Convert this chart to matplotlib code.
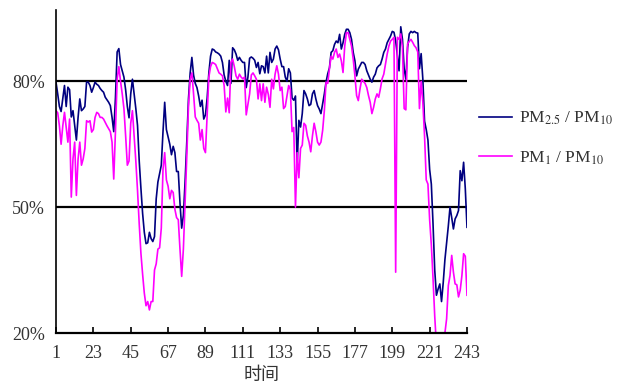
import numpy as np
import matplotlib
matplotlib.use("Agg")
import matplotlib.pyplot as plt

plt.rcParams['font.family'] = ['Liberation Serif', 'Noto Sans CJK SC']
plt.rcParams['mathtext.fontset'] = 'stix'

# PM2.5 / PM10 ratio (%), one value per time step 1..243
pm25_ratio = [
    79.8, 77, 74, 72.8, 76, 79, 74, 78.6, 78, 71.5,
    73, 69.5, 66, 71.4, 75.8, 73, 73.4, 74, 79.8, 79.8,
    79, 77.4, 78.5, 79.8, 79.3, 79, 78.3, 77.8, 77.4, 76.2,
    75.6, 75, 74.2, 71.4, 68, 76, 87, 87.8, 84, 82.5,
    81, 78, 74, 71.3, 77, 80.5, 77, 73.5, 69.5, 61,
    54.5, 48.5, 44, 41.3, 41.5, 44, 42.5, 41.8, 43, 52,
    56, 58, 60, 68, 75, 68.5, 66.8, 65, 62.5, 64.5,
    63, 58.5, 58.5, 51, 45, 48, 56, 65.5, 75.8, 82,
    85.7, 81.5, 79.5, 78.5, 76.5, 74, 75.5, 71, 72, 76,
    82, 86, 87.7, 87.5, 87, 86.8, 86.5, 86, 84.5, 81.5,
    80, 79, 85, 79.5, 88, 87.5, 86.5, 85, 85.7, 85,
    84.5, 84.5, 78.5, 81, 85.5, 85.8, 85.5, 85, 83.3, 84.5,
    81.8, 83.7, 83.5, 82, 86, 82, 86.9, 84.5, 85.3, 87.7,
    88.4, 87.5, 85.3, 83.5, 83.5, 81, 80, 83, 82, 76,
    75.5, 76.5, 60, 70.7, 69.1, 72.3, 77.8, 77, 75.8, 74.2,
    74.5, 77, 77.8, 75.8, 74.2, 73.4, 72.3, 74.6, 77, 79.8,
    81.8, 83.2, 86.9, 87.3, 88.8, 89.6, 89.2, 91.2, 87.7, 89.2,
    91.2, 92.4, 92.4, 91.6, 90, 86.9, 84.9, 81.3, 82.9, 83.7,
    84.5, 84.5, 84, 82.5, 81.5, 80.5, 79.8, 81, 81.7, 83.2,
    83.7, 84, 85.3, 86.9, 87.7, 89.2, 90, 90.8, 91.9, 91.7,
    89.7, 86, 82.5, 93, 90, 83, 80.5, 88, 91.3, 91.9,
    91.6, 91.9, 91.6, 91.5, 83, 86.6, 80.5, 70.5, 68.5, 66,
    59, 55.5, 46, 35, 29, 30.5, 31.7, 27.5, 32, 37.5,
    41.5, 45.5, 50, 47.5, 44.8, 47.2, 48, 49.2, 58.7, 56.3,
    60.7, 54.4, 45.2,
]

# PM1 / PM10 ratio (%)
pm1_ratio = [
    73, 72.5, 69.4, 65, 69.4, 72.6, 69, 65.5, 71, 52.4,
    61.5, 65.5, 52.8, 61.5, 65.5, 60, 61.5, 64, 70.6, 70.3,
    70.6, 67.9, 68.5, 71.4, 72.6, 72.3, 71.4, 71.4, 71, 70.2,
    69.4, 68.7, 68, 65.5, 56.7, 68, 80.5, 83.5, 80, 77,
    73.5, 67, 60, 61, 70, 73, 67, 61, 54, 46,
    39, 34, 29.5, 26.5, 27.5, 25.5, 27.5, 27.5, 35, 36.5,
    40, 40.3, 45, 59, 63, 56.5, 55, 52, 54, 53.5,
    49.5, 47.5, 47, 40, 33.5, 40, 51, 62, 74, 80.5,
    82, 77, 71.5, 70.7, 70, 66, 68.5, 64, 63, 72,
    81, 83.5, 84.5, 84.3, 84, 83, 82, 81.7, 81.3, 79,
    72.7, 76, 72.5, 84.5, 85.3, 83.5, 81.3, 80.5, 81.7, 81,
    80.6, 81, 72, 74.5, 77, 81.5, 82, 81.3, 80.5, 75.8,
    79.4, 75.4, 79.4, 75, 78.6, 76.9, 73.8, 80.5, 78.2, 81.7,
    83.7, 81.7, 77.8, 78.6, 73.5, 74, 76.5, 79, 78, 68,
    69, 50, 63, 57, 64, 64.8, 70, 69.5, 67, 65.5,
    63.2, 67, 70, 68, 65.5, 64.8, 65.5, 68.3, 73, 79.8,
    79.5, 83, 86, 85.3, 86.9, 87.7, 85.7, 86.5, 84.9, 82.1,
    88.4, 91.6, 91.6, 90, 88.4, 85.3, 81.3, 76.6, 75.4, 78.2,
    80.5, 80, 79.5, 78.5, 76.6, 75, 72.3, 73.8, 75.8, 77,
    76.2, 78.2, 80.6, 81.7, 84.1, 86.5, 88.4, 89.6, 90, 90.5,
    34.5, 90.5, 90, 91.3, 88, 73.5, 73.2, 88.9, 89.5, 90,
    89.3, 88.5, 88, 87, 73.5, 80, 75, 67, 56.5, 55.5,
    47, 41, 33, 24, 17, 15, 15, 15, 15, 20,
    23.4, 31.3, 33.7, 38.5, 34.5, 31.7, 31.5, 28.6, 30.2, 33.7,
    38.9, 38.3, 29,
]

t = np.arange(1, len(pm25_ratio) + 1)
xticks = list(range(1, 244, 22))
yticks = [20, 50, 80]

fig = plt.figure(figsize=(6.19, 3.88), dpi=100)
ax = fig.add_axes([56 / 619, 1 - 333 / 388, (467 - 56) / 619, (333 - 10) / 388])

ax.plot(t, pm25_ratio, color='#000080', lw=1.2, label='PM$_{2.5}$ / PM$_{10}$')
ax.plot(t, pm1_ratio, color='#FF00FF', lw=1.2, label='PM$_{1}$ / PM$_{10}$')

ax.set_xlim(1, 243)
ax.set_ylim(20, 97)
ax.set_xticks(xticks)
ax.set_yticks(yticks)
ax.set_yticklabels([f'{v}%' for v in yticks])

for v in [50, 80]:
    ax.axhline(v, color='black', lw=1.6, zorder=1)

for s in ['top', 'right']:
    ax.spines[s].set_visible(False)
ax.spines['left'].set_linewidth(1.2)
ax.spines['bottom'].set_linewidth(1.6)

ax.tick_params(axis='x', direction='in', length=4, width=1.2, pad=9,
               labelsize=13, labelcolor='#333333')
ax.tick_params(axis='y', length=0, pad=8, labelsize=13, labelcolor='#333333')

ax.set_xlabel('时间', fontsize=13, color='#333333', labelpad=3)

ax.legend(loc='upper left', bbox_to_anchor=(0.99, 0.74), frameon=False,
          fontsize=12.5, handlelength=1.95, handletextpad=0.4, labelspacing=1.3,
          labelcolor='#333333')

fig.savefig('out.png', dpi=100)
